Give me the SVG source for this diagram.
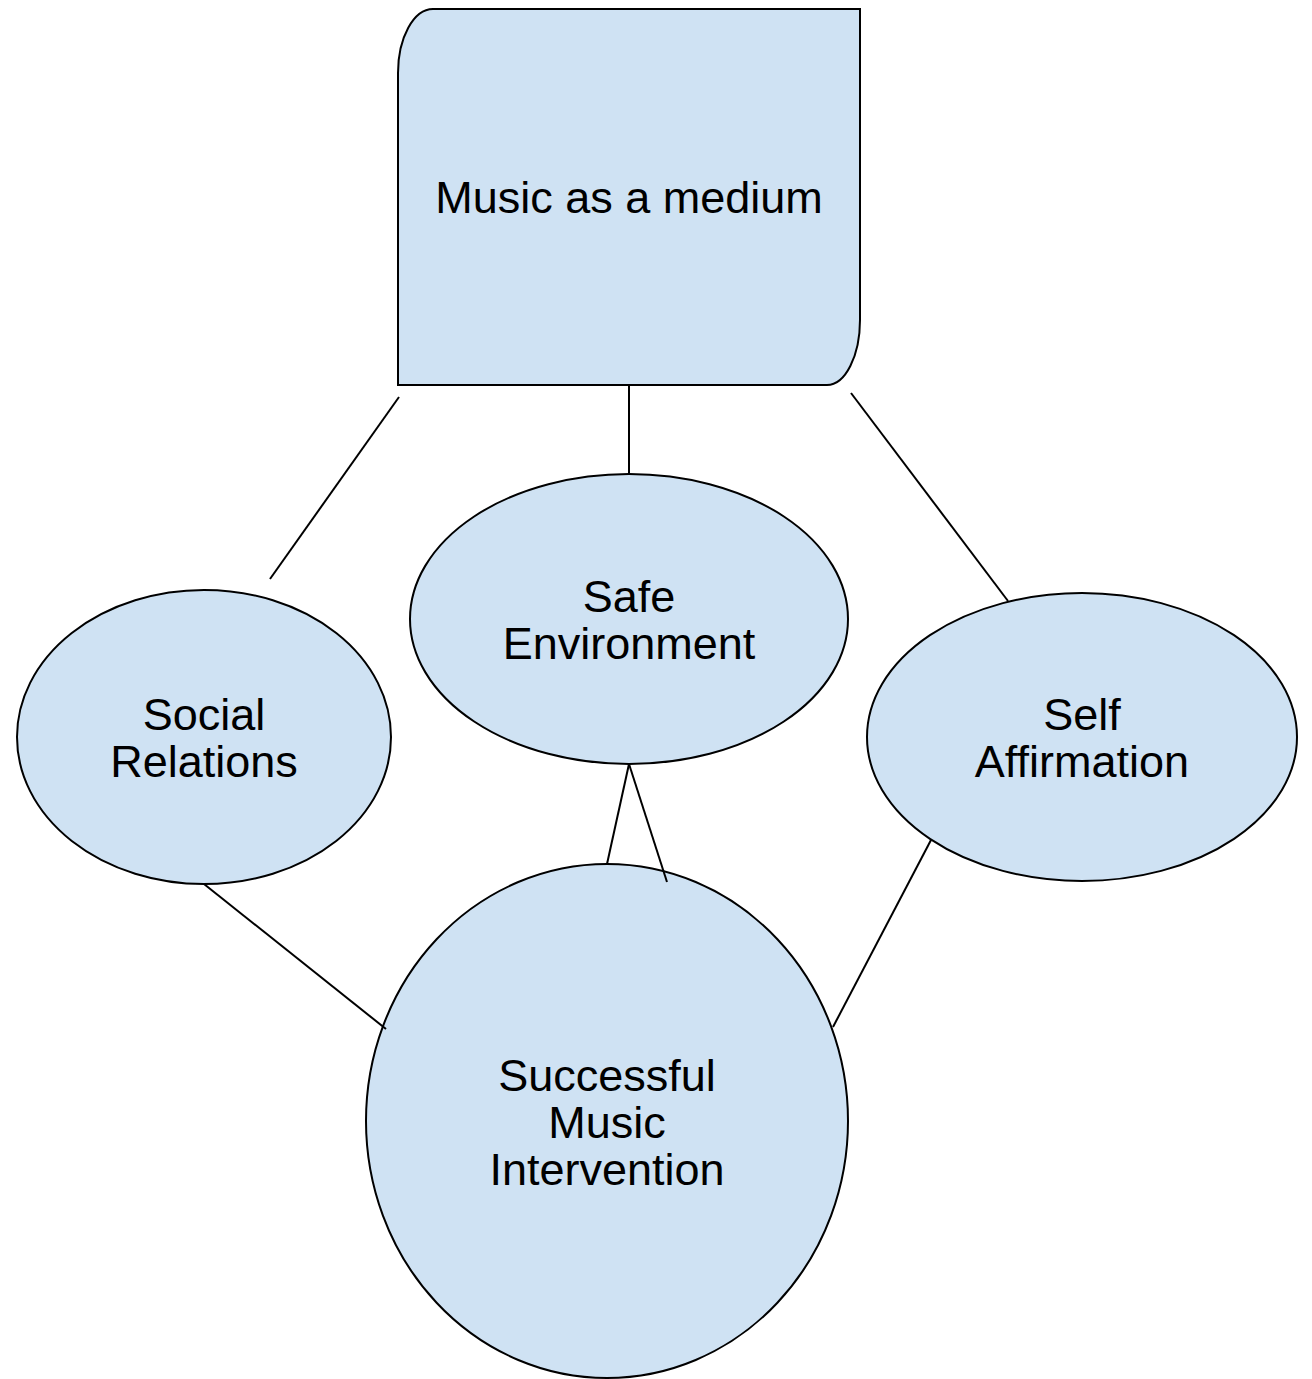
<svg xmlns="http://www.w3.org/2000/svg" width="1312" height="1379" viewBox="0 0 1312 1379">
<style>
.n{fill:#cfe2f3;stroke:#000;stroke-width:2}
.t{font-family:"Liberation Sans",Arial,sans-serif;font-size:45px;fill:#000;text-anchor:middle}
.c{stroke:#000;stroke-width:2;fill:none}
</style>
<rect width="1312" height="1379" fill="#fff"/>
<g id="music">
<path class="n" d="M433,9 H860 V320 A33,65 0 0 1 827,385 H398 V73 A35,64 0 0 1 433,9 Z"/>
<text class="t" x="629" y="213">Music as a medium</text>
</g>
<g id="social">
<ellipse class="n" cx="204" cy="737" rx="187" ry="147"/>
<text class="t" x="204" y="730">Social</text>
<text class="t" x="204" y="777">Relations</text>
</g>
<g id="safe">
<ellipse class="n" cx="629" cy="619" rx="219" ry="145"/>
<text class="t" x="629" y="612">Safe</text>
<text class="t" x="629" y="659">Environment</text>
</g>
<g id="self">
<ellipse class="n" cx="1082" cy="737" rx="215" ry="144"/>
<text class="t" x="1082" y="730">Self</text>
<text class="t" x="1082" y="777">Affirmation</text>
</g>
<g id="success">
<ellipse class="n" cx="607" cy="1121" rx="241" ry="257"/>
<text class="t" x="607" y="1091">Successful</text>
<text class="t" x="607" y="1138">Music</text>
<text class="t" x="607" y="1185">Intervention</text>
</g>
<g id="connectors">
<line class="c" x1="399" y1="397" x2="270" y2="579"/>
<line class="c" x1="629" y1="385" x2="629" y2="474"/>
<line class="c" x1="851" y1="393" x2="1008" y2="601"/>
<line class="c" x1="629" y1="764" x2="607" y2="864"/>
<line class="c" x1="629" y1="764" x2="667" y2="882"/>
<line class="c" x1="204" y1="884" x2="386" y2="1029"/>
<line class="c" x1="931" y1="840" x2="833" y2="1027"/>
</g>
</svg>
